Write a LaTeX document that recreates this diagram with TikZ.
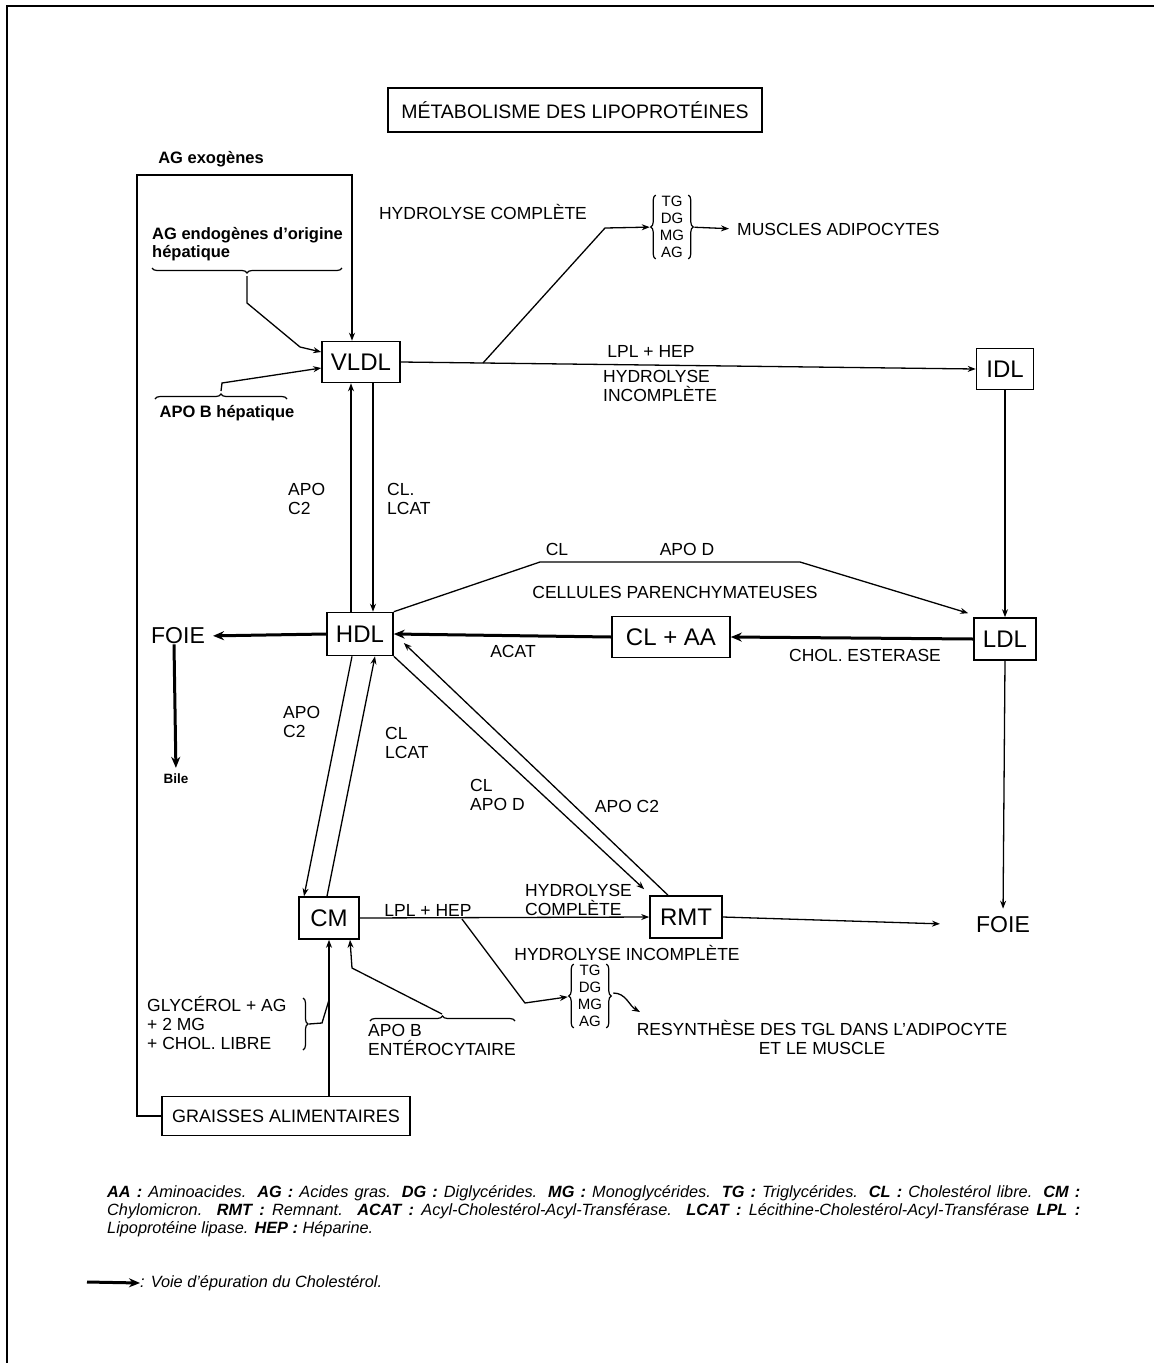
\documentclass[tikz,border=0pt]{standalone}
\usepackage{fontspec}
\setmainfont{Liberation Sans}
\usetikzlibrary{arrows.meta,decorations.pathreplacing,calc}
\begin{document}
\begin{tikzpicture}[x=1pt,y=-1pt,
  box/.style={draw, line width=1.6pt, inner sep=0pt, font=\fontsize{24}{26}\selectfont},
  lab/.style={inner sep=0pt, font=\fontsize{17.5}{19}\selectfont, align=left},
  blab/.style={inner sep=0pt, font=\fontsize{16.5}{18.5}\selectfont\bfseries, align=left},
  big/.style={inner sep=0pt, font=\fontsize{23}{25}\selectfont},
  grp/.style={inner xsep=4pt, inner ysep=1pt, font=\fontsize{15}{17}\selectfont, align=center},
  conn/.style={line width=1.3pt, -{Stealth[length=8pt,width=6pt]}},
  heavy/.style={line width=3pt, -{Stealth[length=11pt,width=9pt]}},
  plain/.style={line width=1.3pt},
  brc/.style={decorate, decoration={brace, amplitude=5pt}, line width=1.2pt}
]
\useasboundingbox (0,0) rectangle (1154,1363);
% page frame
\draw[line width=1.5pt] (7,1363) -- (7,6) -- (1154,6);

% title
\node[box, minimum width=374pt, minimum height=44pt, font=\fontsize{19.5}{21}\selectfont] (title) at (575,110) {MÉTABOLISME DES LIPOPROTÉINES};

% main boxes
\node[box, minimum width=78pt, minimum height=41pt] (VLDL) at (361,362) {VLDL};
\node[box, minimum width=57pt, minimum height=41pt] (IDL) at (1005,369) {IDL};
\node[box, minimum width=66pt, minimum height=43pt] (HDL) at (360,634) {HDL};
\node[box, minimum width=118pt, minimum height=41pt] (CLAA) at (671,637) {CL + AA};
\node[box, minimum width=62pt, minimum height=42pt] (LDL) at (1005,639) {LDL};
\node[box, minimum width=60pt, minimum height=42pt] (CM) at (329,918) {CM};
\node[box, minimum width=72pt, minimum height=42pt] (RMT) at (686,917) {RMT};
\node[box, minimum width=248pt, minimum height=39pt, font=\fontsize{18}{20}\selectfont] (GR) at (286,1116) {GRAISSES ALIMENTAIRES};

\node[big] (foieL) at (178,636) {FOIE};
\node[big] (foieR) at (1003,925) {FOIE};
\node[blab, font=\fontsize{13.5}{15}\selectfont\bfseries] (bile) at (176,779) {Bile};

% left loop : AG exogenes
\node[blab] (exo) at (211,159) {AG exogènes};
\coordinate (c1) at (137,175);
\draw[conn] (GR.west) -| (c1) -| ([xshift=-9pt]VLDL.north);

% AG endogenes
\node[blab, anchor=north west] (endo) at (152,227) {AG endogènes d'origine\\hépatique};
\draw[brc] (342,268) -- (152,268);
\coordinate (e1) at (247,276);
\draw[conn] (e1) -- (247,303) -- (300,347) -- ([yshift=10pt]VLDL.west);

% APO B hepatique
\node[blab] (apobh) at (227,413) {APO B hépatique};
\draw[brc] (155,399) -- (287,399);
\draw[conn] (221,391) -- (222,383) -- ([yshift=-6pt]VLDL.west);

% VLDL <-> HDL
\draw[conn] (351,0 |- HDL.north) -- (351,0 |- VLDL.south);
\draw[conn] (373,0 |- VLDL.south) -- (373,0 |- HDL.north);
\node[lab, anchor=west] (apoc2a) at (288,499) {APO\\C2};
\node[lab, anchor=west] (cllcata) at (387,499) {CL.\\LCAT};

% VLDL -> IDL, branch to TG group
\draw[conn] (VLDL.east) -- (IDL.west);
\node[lab] (lplhep1) at (651,351) {LPL + HEP};
\node[lab, anchor=north west] (hydinc1) at (603,370) {HYDROLYSE\\INCOMPLÈTE};
\node[lab] (hydcomp1) at (483,212) {HYDROLYSE COMPLÈTE};
\node[grp] (g1) at (672,227) {TG\\DG\\MG\\AG};
\draw[brc] (g1.south west) -- (g1.north west);
\draw[brc] (g1.north east) -- (g1.south east);
\coordinate (b1) at (483,363);
\draw[conn, shorten >=6pt] (b1) -- (605,228) -- (g1.west);
\node[lab, anchor=west] (musc) at (737,229) {MUSCLES ADIPOCYTES};
\draw[conn, shorten <=6pt, shorten >=8pt] (g1.east) -- (musc.west);

% IDL -> LDL -> FOIE
\draw[conn] (IDL.south) -- (LDL.north);
\draw[conn, shorten >=8pt] (LDL.south) -- (foieR.north);

% HDL -> LDL via cellules parenchymateuses
\draw[conn] (HDL.north east) -- (540,562) -- (800,562) -- ([xshift=-5pt,yshift=4pt]LDL.north west);
\node[lab] (cl1) at (557,549) {CL};
\node[lab] (apod1) at (687,549) {APO D};
\node[lab] (cell) at (675,592) {CELLULES PARENCHYMATEUSES};

% cholesterol pathway
\draw[heavy] (LDL.west) -- (CLAA.east);
\draw[heavy] (CLAA.west) -- (HDL.east);
\draw[heavy, shorten >=8pt] (HDL.west) -- (foieL.east);
\draw[heavy, shorten >=6pt] ([xshift=-4pt]foieL.south) -- (bile.north);
\node[lab] (acat) at (513,651) {ACAT};
\node[lab] (chol) at (865,655) {CHOL. ESTERASE};

% HDL <-> CM
\draw[conn] ([xshift=-8pt]HDL.south) -- ([xshift=-25pt]CM.north);
\draw[conn] ([xshift=-2pt]CM.north) -- ([xshift=15pt]HDL.south);
\node[lab, anchor=west] (apoc2b) at (283,722) {APO\\C2};
\node[lab, anchor=west] (cllcatb) at (385,743) {CL\\LCAT};

% HDL <-> RMT
\draw[conn] (HDL.south east) -- ([xshift=-5pt,yshift=6pt]RMT.north west);
\draw[conn] ([xshift=-18pt]RMT.north) -- ([xshift=10pt,yshift=-9pt]HDL.east);
\node[lab, anchor=west] (clapod) at (470,795) {CL\\APO D};
\node[lab] (apoc2c) at (627,806) {APO C2};

% CM -> RMT, branch to TG group 2
\draw[conn] (CM.east) -- (RMT.west);
\node[lab] (lplhep2) at (428,910) {LPL + HEP};
\node[lab, anchor=west] (hydcomp2) at (525,900) {HYDROLYSE\\COMPLÈTE};
\node[lab] (hydinc2) at (627,953) {HYDROLYSE INCOMPLÈTE};
\node[grp] (g2) at (590,996) {TG\\DG\\MG\\AG};
\draw[brc] (g2.south west) -- (g2.north west);
\draw[brc] (g2.north east) -- (g2.south east);
\coordinate (b2) at (462,919);
\draw[conn, shorten >=6pt] (b2) -- (525,1003) -- (g2.west);
\node[lab, align=center] (resyn) at (822,1037) {RESYNTHÈSE DES TGL DANS L'ADIPOCYTE\\ET LE MUSCLE};
\draw[conn] ([xshift=7pt,yshift=3pt]g2.east) to[out=0,in=150] (640,1012);

% RMT -> FOIE
\draw[conn, shorten >=36pt] (RMT.east) -- (foieR.west);

% GRAISSES -> CM
\draw[conn] (GR.north -| CM.south) -- (CM.south);
\node[lab, anchor=west] (glyc) at (147,1023) {GLYCÉROL + AG\\+ 2 MG\\+ CHOL. LIBRE};
\draw[brc] (303,998) -- (303,1050);
\draw[plain] (309,1024) -- (322,1023) -- (329,1000);

% APO B enterocytaire
\node[lab, anchor=west] (apobe) at (368,1040) {APO B\\ENTÉROCYTAIRE};
\draw[brc] (370,1021) -- (515,1021);
\draw[conn] (442,1014) -- (352,968) -- ([xshift=21pt]CM.south);

% legend
\node[anchor=north west, inner sep=0pt, text width=973pt, align=justify, font=\fontsize{16.3}{18}\selectfont\itshape] (leg) at (107,1185) {\textbf{AA :} Aminoacides. \textbf{AG :} Acides gras. \textbf{DG :} Diglycérides. \textbf{MG :} Monoglycérides. \textbf{TG :} Triglycérides. \textbf{CL :} Cholestérol libre. \textbf{CM :}\linebreak Chylomicron. \textbf{RMT :} Remnant. \textbf{ACAT :} Acyl-Cholestérol-Acyl-Transférase. \textbf{LCAT :} Lécithine-Cholestérol-Acyl-Transférase \textbf{LPL :}\linebreak Lipoprotéine lipase. \textbf{HEP :} Héparine.};
\node[anchor=west, inner sep=0pt, font=\fontsize{16.3}{18}\selectfont\itshape] (legtxt) at (140,1283) {: Voie d'épuration du Cholestérol.};
\coordinate (la) at (87,1282);
\draw[heavy] (la) -- (legtxt.west);
\end{tikzpicture}
\end{document}
